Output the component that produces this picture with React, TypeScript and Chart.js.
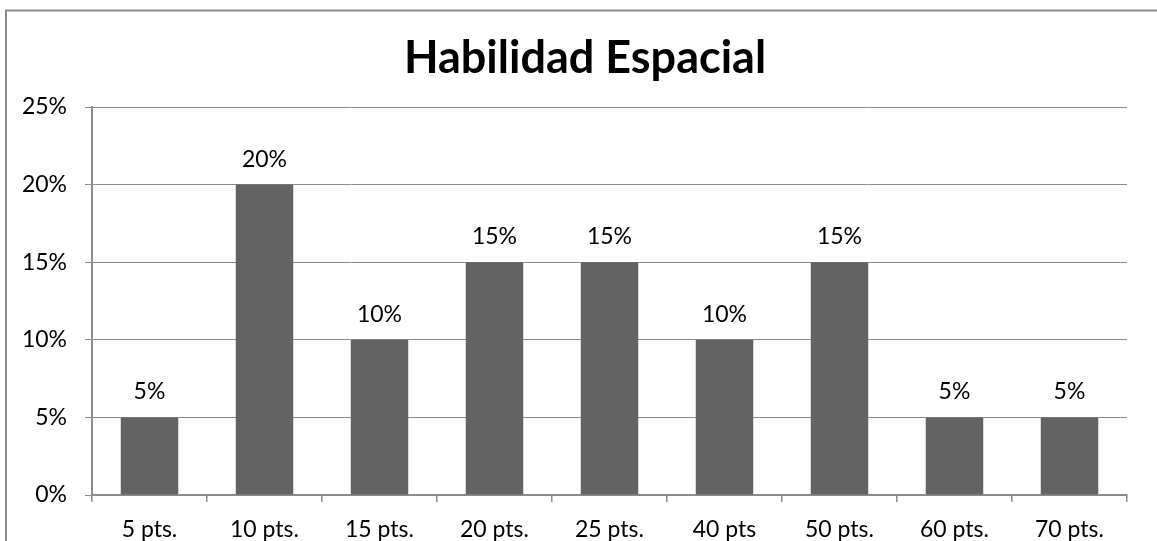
import React, { useEffect, useRef } from "react";
import { Chart, registerables } from "chart.js";

Chart.register(...registerables);

const categories = ["5 pts.", "10 pts.", "15 pts.", "20 pts.", "25 pts.", "40 pts", "50 pts.", "60 pts.", "70 pts."];
const values = [5, 20, 10, 15, 15, 10, 15, 5, 5];
const yTicks = [0, 5, 10, 15, 20, 25];
const titleText = "Habilidad Espacial";

const FONT = "Lato, 'Open Sans', sans-serif";
const GRID = "#8c8c8c";
const BAR = "#636363";

export default function App() {
  const ref = useRef<HTMLCanvasElement | null>(null);

  useEffect(() => {
    if (!ref.current) return;
    const framePlugin = {
      id: "frameAndLabels",
      beforeDraw(chart: any) {
        const ctx = chart.ctx;
        ctx.save();
        ctx.fillStyle = "#ffffff";
        ctx.fillRect(0, 0, chart.width, chart.height);
        ctx.strokeStyle = GRID;
        ctx.lineWidth = 2;
        ctx.beginPath();
        ctx.moveTo(6, chart.height + 2);
        ctx.lineTo(6, 10.5);
        ctx.lineTo(chart.width + 2, 10.5);
        ctx.stroke();
        ctx.fillStyle = "#000";
        ctx.font = `bold 45px ${FONT}`;
        ctx.textAlign = "center";
        ctx.textBaseline = "alphabetic";
        ctx.fillText(titleText, 585, 73);
        ctx.restore();
      },
      afterDatasetsDraw(chart: any) {
        const ctx = chart.ctx;
        const meta = chart.getDatasetMeta(0);
        ctx.save();
        ctx.fillStyle = "#000";
        ctx.font = `23px ${FONT}`;
        ctx.textAlign = "center";
        ctx.textBaseline = "alphabetic";
        meta.data.forEach((el: any, i: number) => {
          ctx.fillText(values[i] + "%", el.x, el.y - 18);
        });
        ctx.restore();
      },
    };

    const chart = new Chart(ref.current, {
      type: "bar",
      data: {
        labels: categories,
        datasets: [
          {
            data: values,
            backgroundColor: BAR,
            borderWidth: 0,
            barPercentage: 0.5,
            categoryPercentage: 1,
          },
        ],
      },
      options: {
        responsive: false,
        animation: false,
        devicePixelRatio: 1,
        layout: { padding: { top: 107, right: 30, bottom: 0, left: 0 } },
        plugins: {
          legend: { display: false },
          title: { display: false },
          tooltip: { enabled: false },
        },
        scales: {
          x: {
            afterFit(scale: any) {
              scale.height = 46;
            },
            grid: {
              offset: true,
              drawOnChartArea: false,
              drawTicks: true,
              tickLength: 7,
              color: GRID,
              lineWidth: 1.5,
            },
            border: { display: true, color: GRID, width: 2 },
            ticks: {
              color: "#000",
              font: { family: FONT, size: 23 },
              padding: 14,
              maxRotation: 0,
              autoSkip: false,
            },
          },
          y: {
            min: 0,
            max: 25,
            afterFit(scale: any) {
              scale.width = 92;
            },
            afterBuildTicks(scale: any) {
              scale.ticks = yTicks.map((v) => ({ value: v }));
            },
            grid: {
              drawTicks: true,
              tickLength: 7,
              color: GRID,
              lineWidth: 1,
            },
            border: { display: true, color: GRID, width: 2 },
            ticks: {
              color: "#000",
              font: { family: FONT, size: 23 },
              padding: 18,
              callback: (v: any) => v + "%",
            },
          },
        },
      },
      plugins: [framePlugin],
    });
    return () => chart.destroy();
  }, []);

  return (
    <div style={{ position: "fixed", left: 0, top: 0, width: 1157, height: 541, background: "#fff" }}>
      <canvas ref={ref} width={1157} height={541} style={{ display: "block", width: 1157, height: 541 }} />
    </div>
  );
}
